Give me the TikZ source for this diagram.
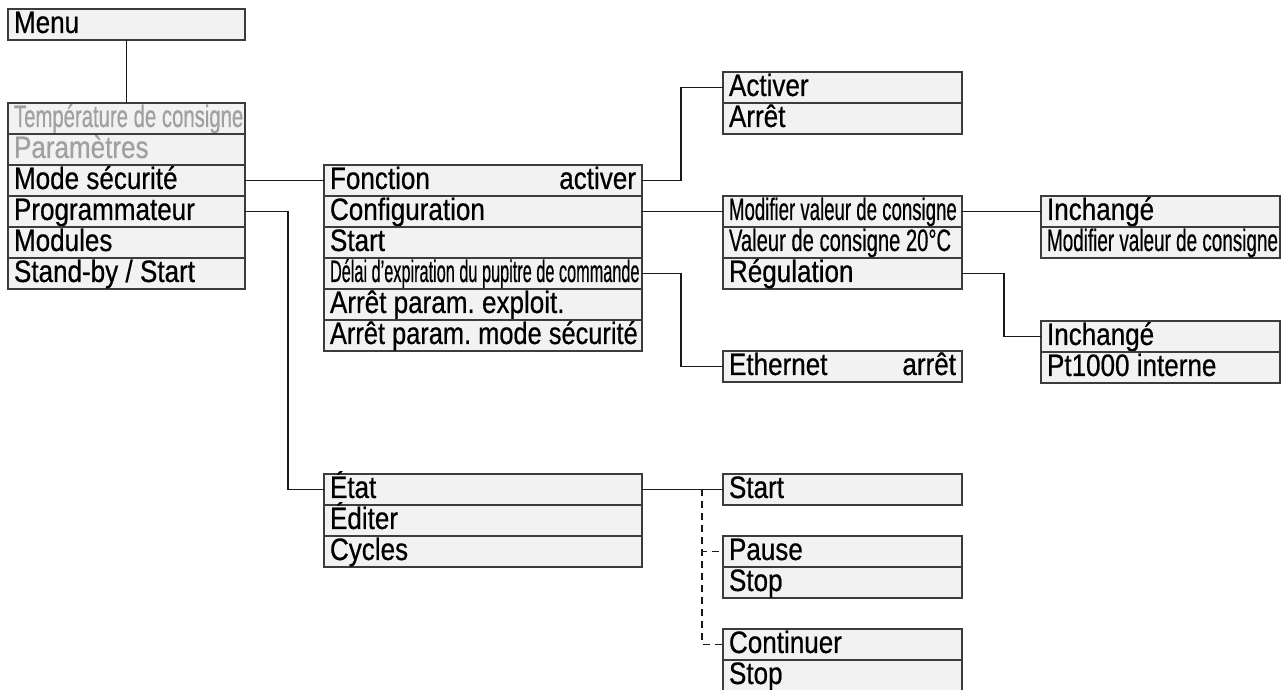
\documentclass[tikz,border=0pt]{standalone}
\usepackage{fontspec}
\setmainfont{Liberation Sans}[FakeStretch=0.84,FakeBold=0.6]
\usepackage{graphicx}
\usetikzlibrary{positioning,calc}
\definecolor{cadre}{HTML}{3C3C3C}
\definecolor{fond}{HTML}{F2F2F2}
\definecolor{grise}{HTML}{A0A0A0}
\newcommand{\serre}[2]{\scalebox{#1}[1]{#2}}
\frenchspacing

\begin{document}
\begin{tikzpicture}[x=1pt,y=1pt,node distance=0pt,
   row/.style={draw=cadre,fill=fond,line width=1.5pt,outer sep=0pt,inner xsep=6pt,inner ysep=0pt,
     text height=24pt,text depth=7pt,align=left,anchor=north west,
     font=\fontsize{31}{33}\selectfont,
     execute at begin node={\spaceskip=0.235em\xspaceskip=0.235em\relax}},
   col1/.style={row,text width=225pt},
   col2/.style={row,text width=306pt},
   col3/.style={row,text width=227pt},
   off/.style={text=grise},
   link/.style={line width=1.8pt,draw=black!90}]
\useasboundingbox (0,0) rectangle (1285,690);
% Menu principal
\node[col1] (menu) at (8,681) {Menu};
\node[col1,off] (temp) at (8,587) {\serre{0.78}{Température de consigne}};
\node[col1,off,below=of temp] (param) {Paramètres};
\node[col1,below=of param] (mode) {Mode sécurité};
\node[col1,below=of mode] (prog) {Programmateur};
\node[col1,below=of prog] (modul) {Modules};
\node[col1,below=of modul] (stand) {Stand-by / Start};
% Mode securite
\node[col2] (fonc) at (324,525) {Fonction\hfill activer};
\node[col2,below=of fonc] (conf) {Configuration};
\node[col2,below=of conf] (startm) {Start};
\node[col2,below=of startm] (delai) {\serre{0.625}{Délai d'expiration du pupitre de commande}};
\node[col2,below=of delai] (exploit) {Arrêt param. exploit.};
\node[col2,below=of exploit] (secur) {\serre{0.975}{Arrêt param. mode sécurité}};
% Sous-menus
\node[col3] (act) at (723,618) {Activer};
\node[col3,below=of act] (arret) {Arrêt};
\node[col3] (modif) at (723,494) {\serre{0.715}{Modifier valeur de consigne}};
\node[col3,below=of modif] (valeur) {\serre{0.775}{Valeur de consigne 20°C}};
\node[col3,below=of valeur] (reg) {Régulation};
\node[col3] (eth) at (723,339) {Ethernet\hfill arrêt};
\node[col3] (inch1) at (1041,494) {Inchangé};
\node[col3,below=of inch1] (modif2) {\serre{0.725}{Modifier valeur de consigne}};
\node[col3] (inch2) at (1041,369) {Inchangé};
\node[col3,below=of inch2] (pt) {Pt1000 interne};
% Programmateur
\node[col2] (etat) at (324,216) {État};
\node[col2,below=of etat] (edit) {Éditer};
\node[col2,below=of edit] (cyc) {Cycles};
\node[col3] (startp) at (723,216) {Start};
\node[col3] (pause) at (723,154) {Pause};
\node[col3,below=of pause] (stopa) {Stop};
\node[col3] (cont) at (723,61) {Continuer};
\node[col3,below=of cont] (stopb) {Stop};
% Liaisons
\draw[link] (menu.south) -- (temp.north);
\draw[link] (mode.east) -- (fonc.west);
\draw[link] (prog.east) -- ++(43,0) |- (etat.west);
\draw[link] (fonc.east) -- ++(39,0) |- (act.west);
\draw[link] (conf.east) -- (modif.west);
\draw[link] (delai.east) -- ++(39,0) |- (eth.west);
\draw[link] (modif.east) -- (inch1.west);
\draw[link] (reg.east) -- ++(42,0) |- (inch2.west);
\draw[link] (etat.east) -- (startp.west) coordinate[pos=0.74] (fourche);
\draw[link,dash pattern=on 7pt off 5pt] (fourche) |- (pause.west);
\draw[link,dash pattern=on 7pt off 5pt] (fourche) |- (cont.west);
\end{tikzpicture}
\end{document}
